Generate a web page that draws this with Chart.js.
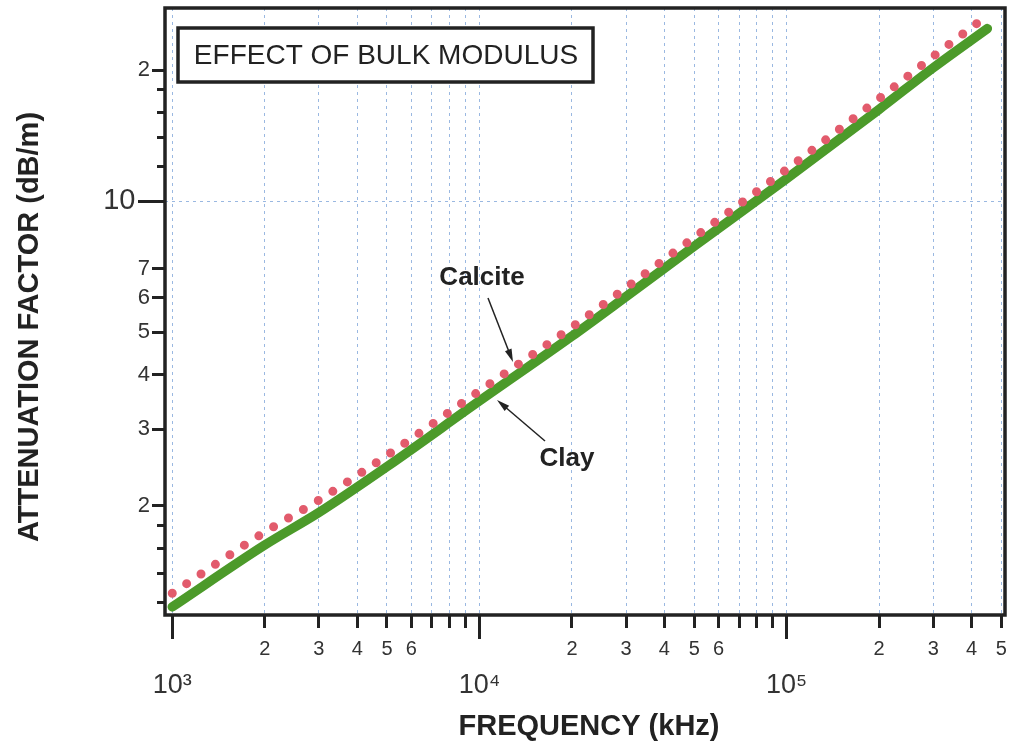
<!DOCTYPE html>
<html>
<head>
<meta charset="utf-8">
<script src="https://cdn.jsdelivr.net/npm/chart.js@4.4.0/dist/chart.umd.min.js"></script>
<style>
  html, body { margin: 0; padding: 0; background: #fff; }
</style>
</head>
<body>
<canvas id="chart_1" width="1009" height="750"></canvas>
<script>
// Valores (frecuencia en kHz, atenuacion en dB/m)
var frecuenciasCalcite = [1000, 2000, 3000, 5000, 10000, 20000, 30000, 50000, 100000, 200000, 300000, 435000];
var calcite = [1.26, 1.74, 2.06, 2.61, 3.67, 5.14, 6.33, 8.26, 11.83, 17.2, 21.5, 26.2];
var frecuenciasClay = [1000, 2000, 3000, 5000, 10000, 20000, 30000, 50000, 100000, 200000, 300000, 450000];
var clay = [1.172, 1.625, 1.93, 2.46, 3.48, 4.90, 6.04, 7.88, 11.27, 16.25, 20.25, 24.9];

// Marcas del eje X
var ticksX = [1000, 2000, 3000, 4000, 5000, 6000, 7000, 8000, 9000,
              10000, 20000, 30000, 40000, 50000, 60000, 70000, 80000, 90000,
              100000, 200000, 300000, 400000, 500000];
var etiquetasX = [['', '10\u00B3'], '2', '3', '4', '5', '6', '', '', '',
                  ['', '10\u2074'], '2', '3', '4', '5', '6', '', '', '',
                  ['', '10\u2075'], '2', '3', '4', '5'];
var ticksXMayores = [1000, 10000, 100000];

// Marcas del eje Y
var ticksY = [2, 3, 4, 5, 6, 7, 10, 20];
var etiquetasY = ['2', '3', '4', '5', '6', '7', '10\u2002', '2'];
var ticksYMenores = [1.2, 1.4, 1.6, 1.8, 12, 14, 16, 18];
var ticksYDiez = [10];

var fuente = "'Liberation Sans', Arial, sans-serif";
var xMin = 947, xMax = 513600;
var yMin = 1.123, yMax = 27.76;
var azulRejilla = 'rgba(120,160,215,0.75)';

function fijarTicks(valores) {
  return function(scale) {
    scale.ticks = valores.map(function(v) { return { value: v }; });
  };
}

function ajustar(ancho, alto) {
  return function(s) {
    if (ancho !== null) s.width = ancho;
    if (alto !== null) s.height = alto;
    s.paddingTop = 0; s.paddingBottom = 0;
    s.paddingLeft = 0; s.paddingRight = 0;
  };
}

function flecha(ctx, x1, y1, x2, y2) {
  var ang = Math.atan2(y2 - y1, x2 - x1);
  ctx.beginPath();
  ctx.moveTo(x1, y1);
  ctx.lineTo(x2 - 10 * Math.cos(ang), y2 - 10 * Math.sin(ang));
  ctx.stroke();
  ctx.beginPath();
  ctx.moveTo(x2, y2);
  ctx.lineTo(x2 - 13 * Math.cos(ang) + 3.5 * Math.sin(ang), y2 - 13 * Math.sin(ang) - 3.5 * Math.cos(ang));
  ctx.lineTo(x2 - 13 * Math.cos(ang) - 3.5 * Math.sin(ang), y2 - 13 * Math.sin(ang) + 3.5 * Math.cos(ang));
  ctx.closePath();
  ctx.fill();
}

// Marco, recuadro del titulo, titulos de ejes y rotulos
var decoracion = {
  id: 'decoracion',
  afterDraw: function(chart) {
    var ctx = chart.ctx;
    var a = chart.chartArea;
    ctx.save();
    ctx.strokeStyle = '#222';
    ctx.lineWidth = 3.5;
    ctx.strokeRect(a.left, a.top, a.right - a.left, a.bottom - a.top);

    ctx.fillStyle = '#fff';
    ctx.fillRect(178, 28, 415, 54);
    ctx.strokeRect(178, 28, 415, 54);
    ctx.fillStyle = '#222';
    ctx.textAlign = 'center';
    ctx.textBaseline = 'middle';
    ctx.font = '28px ' + fuente;
    ctx.fillText('EFFECT OF BULK MODULUS', 386, 56);

    ctx.font = 'bold 29px ' + fuente;
    ctx.fillText('FREQUENCY (kHz)', 589, 727);
    ctx.save();
    ctx.translate(30, 327);
    ctx.rotate(-Math.PI / 2);
    ctx.fillText('ATTENUATION FACTOR (dB/m)', 0, 0);
    ctx.restore();

    ctx.font = 'bold 26px ' + fuente;
    ctx.fillText('Calcite', 482, 278);
    ctx.fillText('Clay', 567, 459);
    ctx.lineWidth = 1.5;
    flecha(ctx, 488, 298, 513, 362);
    flecha(ctx, 545, 441, 497, 400);
    ctx.restore();
  }
};

var ctx = document.getElementById('chart_1').getContext('2d');
var chart = new Chart(ctx, {
  type: 'line',
  data: {
    datasets: [
      {
        label: 'Calcite',
        data: frecuenciasCalcite.map(function(f, i) { return { x: f, y: calcite[i] }; }),
        borderColor: '#e25b6c',
        borderWidth: 9,
        borderDash: [0, 17.3],
        borderCapStyle: 'round',
        pointRadius: 0,
        cubicInterpolationMode: 'monotone',
        xAxisID: 'x',
        yAxisID: 'y'
      },
      {
        label: 'Clay',
        data: frecuenciasClay.map(function(f, i) { return { x: f, y: clay[i] }; }),
        borderColor: '#4c9a2a',
        borderWidth: 9.5,
        borderCapStyle: 'round',
        pointRadius: 0,
        cubicInterpolationMode: 'monotone',
        xAxisID: 'x',
        yAxisID: 'y'
      }
    ]
  },
  options: {
    responsive: false,
    animation: false,
    devicePixelRatio: 1,
    layout: { padding: { top: 8, right: 4, left: 0, bottom: 0 } },
    plugins: { legend: { display: false }, tooltip: { enabled: false } },
    scales: {
      xMayor: {
        type: 'logarithmic', position: 'bottom', weight: 0, min: xMin, max: xMax,
        afterBuildTicks: fijarTicks(ticksXMayores),
        afterFit: ajustar(null, 0),
        ticks: { autoSkip: false, maxRotation: 0, minRotation: 0, callback: function() { return ''; } },
        grid: { drawOnChartArea: false, tickLength: 24, tickWidth: 3, tickColor: '#222' },
        border: { display: false }
      },
      x: {
        type: 'logarithmic', position: 'bottom', weight: 1, min: xMin, max: xMax,
        afterBuildTicks: fijarTicks(ticksX),
        afterFit: ajustar(null, 135),
        ticks: {
          autoSkip: false, maxRotation: 0, minRotation: 0, padding: 9, color: '#333',
          font: function(c) {
            var v = c.tick && c.tick.value;
            return (v === 1000 || v === 10000 || v === 100000) ? { family: fuente, size: 27 } : { family: fuente, size: 20 };
          },
          callback: function(v, i) { return etiquetasX[i]; }
        },
        grid: { color: azulRejilla, lineWidth: 1, tickLength: 13, tickWidth: 3, tickColor: '#222' },
        border: { display: false, dash: [3, 4] }
      },
      yMenor: {
        type: 'logarithmic', position: 'left', weight: 0, min: yMin, max: yMax,
        afterBuildTicks: fijarTicks(ticksYMenores),
        afterFit: ajustar(0, null),
        ticks: { autoSkip: false, callback: function() { return ''; } },
        grid: { drawOnChartArea: false, tickLength: 8, tickWidth: 3, tickColor: '#222' },
        border: { display: false }
      },
      yDiez: {
        type: 'logarithmic', position: 'left', weight: 1, min: yMin, max: yMax,
        afterBuildTicks: fijarTicks(ticksYDiez),
        afterFit: ajustar(0, null),
        ticks: { autoSkip: false, callback: function() { return ''; } },
        grid: { drawOnChartArea: false, tickLength: 27, tickWidth: 3, tickColor: '#222' },
        border: { display: false }
      },
      y: {
        type: 'logarithmic', position: 'left', weight: 2, min: yMin, max: yMax,
        afterBuildTicks: fijarTicks(ticksY),
        afterFit: ajustar(165, null),
        ticks: {
          autoSkip: false, padding: 2, color: '#333',
          font: function(c) {
            return (c.tick && c.tick.value === 10) ? { family: fuente, size: 29 } : { family: fuente, size: 22 };
          },
          callback: function(v, i) { return etiquetasY[i]; }
        },
        grid: {
          color: function(c) { return (c.tick && c.tick.value === 10) ? azulRejilla : 'rgba(0,0,0,0)'; },
          lineWidth: 1, tickLength: 13, tickWidth: 3, tickColor: '#222'
        },
        border: { display: false, dash: [3, 4] }
      }
    }
  },
  plugins: [decoracion]
});
</script>
</body>
</html>
